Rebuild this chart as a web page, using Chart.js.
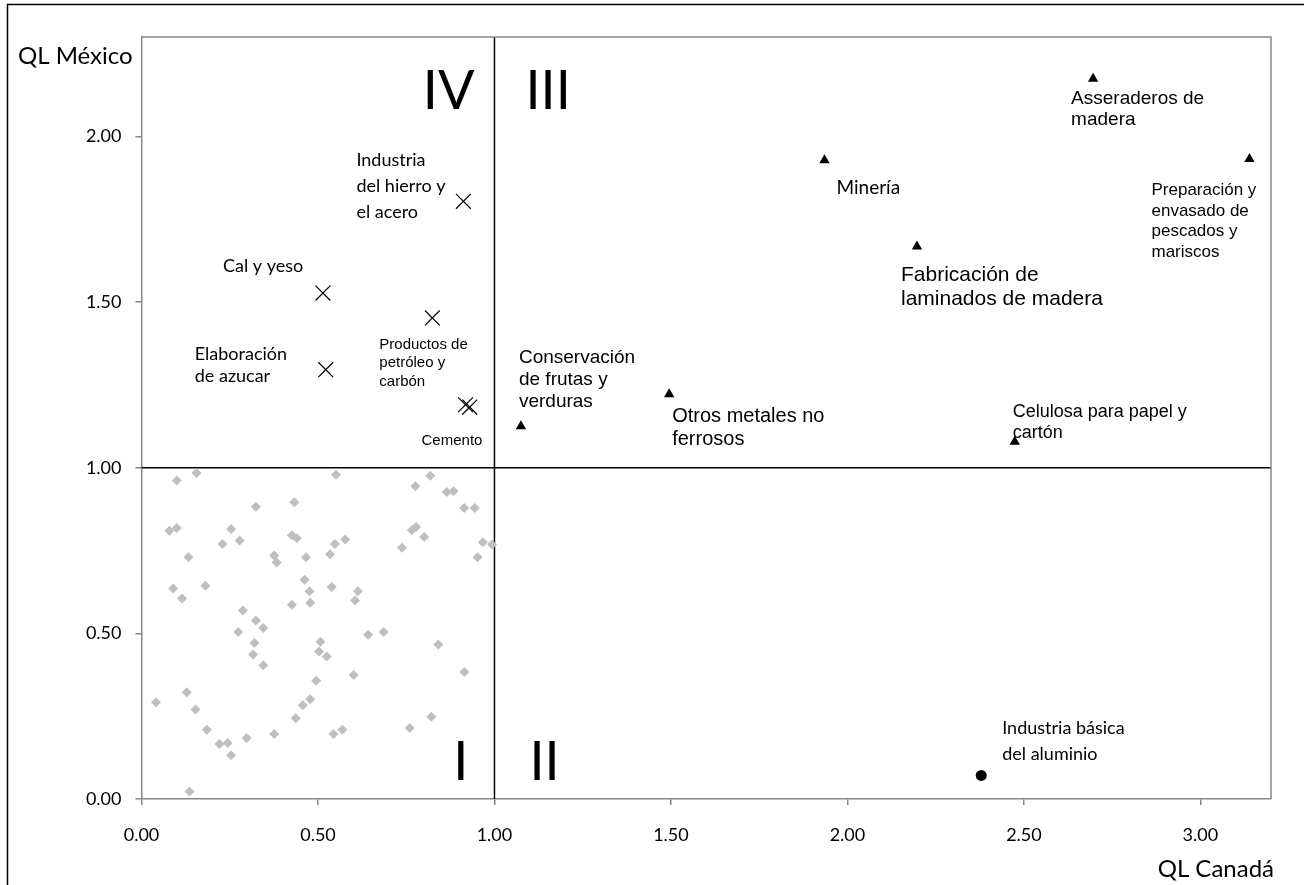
<!DOCTYPE html>
<html>
<head>
<meta charset="utf-8">
<title>QL Canadá vs QL México</title>
<script src="https://cdn.jsdelivr.net/npm/chart.js@4.4.1/dist/chart.umd.min.js"></script>
<style>
  html, body { margin: 0; padding: 0; background: #ffffff; }
  #wrap { width: 1304px; height: 885px; position: relative; }
</style>
</head>
<body>
<div id="wrap"><canvas id="chart" width="1304" height="885"></canvas></div>
<script>
// Location quotients: x = QL Canadá, y = QL México

// Quadrant I: industries below 1 in both countries
const restoX = [0.100, 0.156, 0.551, 0.776, 0.818, 0.865, 0.884, 0.914, 0.944, 0.324, 0.433,
                0.079, 0.100, 0.254, 0.230, 0.278, 0.426, 0.440, 0.548, 0.577, 0.766, 0.778,
                0.801, 0.738, 0.967, 0.993, 0.952, 0.133, 0.376, 0.383, 0.466, 0.534,
                0.090, 0.115, 0.181, 0.462, 0.476, 0.539, 0.426, 0.478, 0.613, 0.605,
                0.287, 0.324, 0.345, 0.274, 0.320, 0.316, 0.345, 0.507, 0.503, 0.525,
                0.642, 0.686, 0.841, 0.601, 0.495, 0.915, 0.041, 0.128, 0.153, 0.185,
                0.221, 0.244, 0.254, 0.298, 0.376, 0.437, 0.457, 0.478, 0.544, 0.569,
                0.760, 0.821, 0.136];
const restoY = [0.961, 0.984, 0.979, 0.944, 0.976, 0.927, 0.929, 0.878, 0.878, 0.882, 0.896,
                0.810, 0.818, 0.815, 0.770, 0.780, 0.796, 0.787, 0.770, 0.783, 0.811, 0.821,
                0.791, 0.758, 0.775, 0.768, 0.730, 0.730, 0.735, 0.714, 0.730, 0.739,
                0.635, 0.605, 0.644, 0.662, 0.627, 0.640, 0.586, 0.592, 0.627, 0.599,
                0.569, 0.539, 0.516, 0.504, 0.471, 0.436, 0.404, 0.475, 0.445, 0.430,
                0.496, 0.504, 0.466, 0.374, 0.357, 0.383, 0.292, 0.322, 0.270, 0.209,
                0.166, 0.169, 0.132, 0.184, 0.196, 0.244, 0.283, 0.301, 0.196, 0.209,
                0.214, 0.248, 0.023];

// Quadrant IV: specialised in México only
const mexicoNames = ["Industria\ndel hierro y\nel acero", "Cal y yeso", "Productos de\npetróleo y\ncarbón",
                     "Elaboración\nde azucar", "Cemento", null];
const mexicoX = [0.912, 0.514, 0.824, 0.522, 0.918, 0.930];
const mexicoY = [1.804, 1.527, 1.452, 1.296, 1.190, 1.183];

// Quadrant III: specialised in both countries
const ambosNames = ["Asseraderos de\nmadera", "Minería", "Preparación y\nenvasado de\npescados y\nmariscos",
                    "Fabricación de\nlaminados de madera", "Conservación\nde frutas y\nverduras",
                    "Otros metales no\nferrosos", "Celulosa para papel y\ncartón"];
const ambosX = [2.696, 1.935, 3.139, 2.197, 1.075, 1.495, 2.474];
const ambosY = [2.174, 1.928, 1.932, 1.668, 1.125, 1.222, 1.078];

// Quadrant II: specialised in Canadá only
const canadaNames = ["Industria básica\ndel aluminio"];
const canadaX = [2.379];
const canadaY = [0.071];

// Axes, cut-off value and quadrant numbering
const xTicks = [0, 0.5, 1, 1.5, 2, 2.5, 3];
const yTicks = [0, 0.5, 1, 1.5, 2];
const xRange = [0, 3.2];
const yRange = [0, 2.3];
const corte = 1;
const cuadrantes = ["I", "II", "III", "IV"];
const tituloX = "QL Canadá";
const tituloY = "QL México";

// ---- presentation ----
const ARIAL = "'Liberation Sans', Arial, sans-serif";
const CALIBRI = "Lato, 'Liberation Sans', sans-serif";

// label placement relative to each marker: dx, dy to first baseline, font, line height
const labelStyle = {
  "Industria\ndel hierro y\nel acero": { dx: -107, dy: -35, family: CALIBRI, size: 18, lh: 25.7 },
  "Cal y yeso": { dx: -100, dy: -21, family: CALIBRI, size: 18, lh: 22 },
  "Productos de\npetróleo y\ncarbón": { dx: -53, dy: 31, family: ARIAL, size: 15, lh: 18.3 },
  "Elaboración\nde azucar": { dx: -131, dy: -10, family: CALIBRI, size: 18, lh: 22 },
  "Cemento": { dx: -44, dy: 40, family: ARIAL, size: 15, lh: 18 },
  "Asseraderos de\nmadera": { dx: -22, dy: 25, family: ARIAL, size: 19, lh: 21 },
  "Minería": { dx: 12, dy: 34, family: CALIBRI, size: 19, lh: 22 },
  "Preparación y\nenvasado de\npescados y\nmariscos": { dx: -98, dy: 36, family: ARIAL, size: 17, lh: 20.7 },
  "Fabricación de\nlaminados de madera": { dx: -16, dy: 35, family: ARIAL, size: 21, lh: 24 },
  "Conservación\nde frutas y\nverduras": { dx: -2, dy: -63, family: ARIAL, size: 19, lh: 21.7 },
  "Otros metales no\nferrosos": { dx: 3, dy: 28, family: ARIAL, size: 20, lh: 23 },
  "Celulosa para papel y\ncartón": { dx: -2, dy: -25, family: ARIAL, size: 18, lh: 21 },
  "Industria básica\ndel aluminio": { dx: 21, dy: -41, family: CALIBRI, size: 18, lh: 25.7 }
};

const zip = (xs, ys) => xs.map((x, i) => ({ x: x, y: ys[i] }));

const pointLabels = {
  id: 'pointLabels',
  afterDatasetsDraw(chart) {
    const ctx = chart.ctx;
    ctx.save();
    ctx.fillStyle = '#000';
    ctx.textAlign = 'left';
    ctx.textBaseline = 'alphabetic';
    chart.data.datasets.forEach((ds, di) => {
      if (!ds.names) return;
      const meta = chart.getDatasetMeta(di);
      ds.names.forEach((name, i) => {
        if (!name) return;
        const st = labelStyle[name];
        const pt = meta.data[i];
        ctx.font = st.size + 'px ' + st.family;
        name.split('\n').forEach((line, k) => {
          ctx.fillText(line, pt.x + st.dx, pt.y + st.dy + k * st.lh);
        });
      });
    });
    ctx.restore();
  }
};

const decor = {
  id: 'decor',
  beforeDraw(chart) {
    const ctx = chart.ctx;
    ctx.save();
    ctx.fillStyle = '#fff';
    ctx.fillRect(0, 0, chart.width, chart.height);
    ctx.strokeStyle = '#000';
    ctx.lineWidth = 1.5;
    ctx.strokeRect(7.5, 4.5, 3000, 3000);
    ctx.restore();
  },
  afterDraw(chart) {
    const ctx = chart.ctx;
    const a = chart.chartArea;
    const xs = chart.scales.x, ys = chart.scales.y;
    ctx.save();
    // plot frame (top and right)
    ctx.strokeStyle = '#888888';
    ctx.lineWidth = 1.5;
    ctx.beginPath();
    ctx.moveTo(a.left, a.top);
    ctx.lineTo(a.right, a.top);
    ctx.lineTo(a.right, a.bottom);
    ctx.stroke();
    // axis titles
    ctx.fillStyle = '#000';
    ctx.font = '24px ' + CALIBRI;
    ctx.textAlign = 'left';
    ctx.textBaseline = 'alphabetic';
    ctx.fillText(tituloY, 18, 64);
    ctx.textAlign = 'right';
    ctx.fillText(tituloX, 1274, 877);
    // quadrant numbers around the cut-off point
    const xc = xs.getPixelForValue(corte);
    ctx.font = '54px ' + CALIBRI;
    ctx.textAlign = 'right';
    ctx.fillText(cuadrantes[3], xc - 20, a.top + 72);
    ctx.fillText(cuadrantes[0], xc - 26, a.bottom - 19);
    ctx.textAlign = 'left';
    ctx.fillText(cuadrantes[2], xc + 31, a.top + 72);
    ctx.fillText(cuadrantes[1], xc + 35, a.bottom - 19);
    ctx.restore();
  }
};

const axisCommon = {
  type: 'linear',
  grid: { drawOnChartArea: false, drawTicks: true, tickLength: 6, color: '#888888', lineWidth: 1.5 },
  border: { color: '#888888', width: 1.5 },
};

new Chart(document.getElementById('chart'), {
  type: 'scatter',
  data: {
    datasets: [
      {
        data: zip(restoX, restoY),
        pointStyle: 'rectRot', pointRadius: 5, pointBorderWidth: 0,
        backgroundColor: '#bfbfbf', borderColor: '#bfbfbf', order: 5
      },
      {
        data: zip(mexicoX, mexicoY), names: mexicoNames,
        pointStyle: 'crossRot', pointRadius: 10.5, pointBorderWidth: 1.2,
        borderColor: '#000', backgroundColor: '#000', order: 2
      },
      {
        data: zip(ambosX, ambosY), names: ambosNames,
        pointStyle: 'triangle', pointRadius: 6, pointBorderWidth: 0,
        backgroundColor: '#000', borderColor: '#000', order: 2
      },
      {
        data: zip(canadaX, canadaY), names: canadaNames,
        pointStyle: 'circle', pointRadius: 5.5, pointBorderWidth: 0,
        backgroundColor: '#000', borderColor: '#000', order: 2
      },
      {
        type: 'line',
        data: [{ x: corte, y: yRange[0] }, { x: corte, y: yRange[1] }],
        borderColor: '#000', borderWidth: 1.5, pointRadius: 0, order: 10
      },
      {
        type: 'line',
        data: [{ x: xRange[0], y: corte }, { x: xRange[1], y: corte }],
        borderColor: '#000', borderWidth: 1.5, pointRadius: 0, order: 10
      }
    ]
  },
  options: {
    responsive: false,
    animation: false,
    events: [],
    layout: { padding: { left: 0, top: 37, right: 33, bottom: 0 } },
    plugins: { legend: { display: false }, tooltip: { enabled: false } },
    scales: {
      x: Object.assign({}, axisCommon, {
        position: 'bottom',
        min: xRange[0], max: xRange[1],
        afterBuildTicks: s => { s.ticks = xTicks.map(v => ({ value: v })); },
        afterFit: s => { s.height = 86; },
        ticks: {
          padding: 19, color: '#000', font: { family: CALIBRI, size: 18 },
          maxRotation: 0, callback: v => Number(v).toFixed(2)
        }
      }),
      y: Object.assign({}, axisCommon, {
        position: 'left',
        min: yRange[0], max: yRange[1],
        afterBuildTicks: s => { s.ticks = yTicks.map(v => ({ value: v })); },
        afterFit: s => { s.width = 141.5; },
        ticks: {
          padding: 14, color: '#000', font: { family: CALIBRI, size: 18 },
          callback: v => Number(v).toFixed(2)
        }
      })
    }
  },
  plugins: [decor, pointLabels]
});
</script>
</body>
</html>
